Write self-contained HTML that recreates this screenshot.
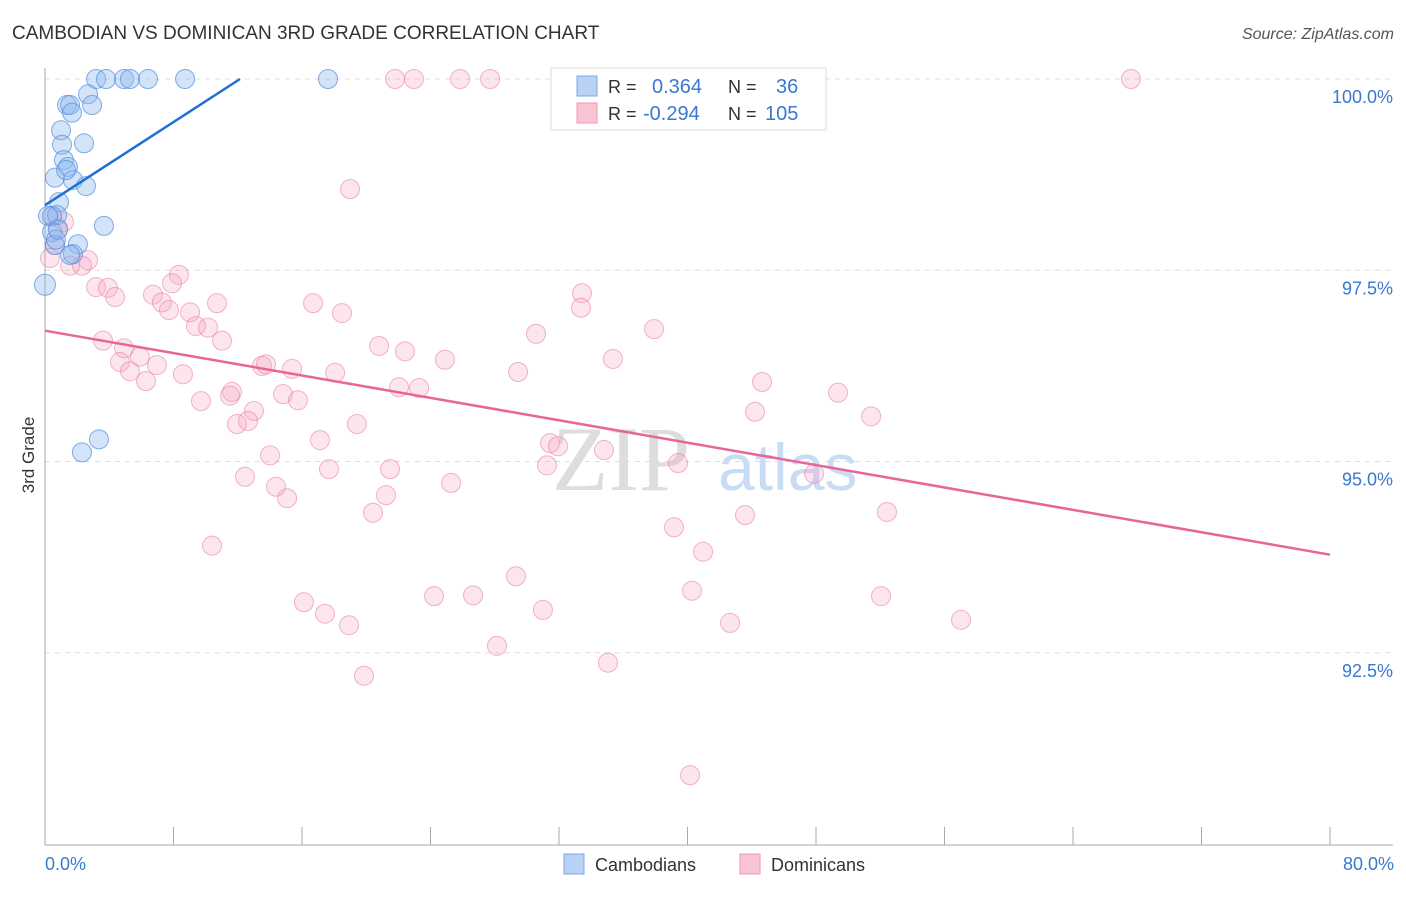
<!DOCTYPE html>
<html><head><meta charset="utf-8"><style>
body{margin:0;background:#fff;font-family:"Liberation Sans",sans-serif}
</style></head><body>
<svg id="chart" width="1406" height="892" xmlns="http://www.w3.org/2000/svg" font-family="Liberation Sans, sans-serif">
<text x="12" y="39" font-size="19" fill="#333">CAMBODIAN VS DOMINICAN 3RD GRADE CORRELATION CHART</text>
<text x="1394" y="39" font-size="16" fill="#555" font-style="italic" text-anchor="end">Source: ZipAtlas.com</text>
<g>
<text x="552" y="490" font-size="92" fill="#ddd" font-family="Liberation Serif, serif">ZIP</text>
<text x="718" y="490" font-size="66" fill="#c9dcf3">atlas</text>
</g>
<g id="grid"></g>
<g id="axes"></g>
<g id="pts"></g>
<g id="trend"></g>
<text transform="translate(34,455) rotate(-90)" font-size="17" fill="#333" text-anchor="middle">3rd Grade</text>
<text x="45" y="870" font-size="18" fill="#3a78d0">0.0%</text>
<text x="1394" y="870" font-size="18" fill="#3a78d0" text-anchor="end">80.0%</text>
<g>
<rect x="551" y="68" width="275" height="62" fill="#fff" stroke="#ddd"/>
<rect x="577" y="76" width="20" height="20" fill="#b8d2f5" stroke="#7aa8e6"/>
<rect x="577" y="103" width="20" height="20" fill="#f9c4d4" stroke="#ee9ab6"/>
<text x="608" y="93" font-size="18" fill="#333">R =</text>
<text x="652" y="93" font-size="20" fill="#3a78d0">0.364</text>
<text x="728" y="93" font-size="18" fill="#333">N =</text>
<text x="776" y="93" font-size="20" fill="#3a78d0">36</text>
<text x="608" y="120" font-size="18" fill="#333">R =</text>
<text x="643" y="120" font-size="20" fill="#3a78d0">-0.294</text>
<text x="728" y="120" font-size="18" fill="#333">N =</text>
<text x="765" y="120" font-size="20" fill="#3a78d0">105</text>
</g>
<g>
<rect x="564" y="854" width="20" height="20" fill="#b8d2f5" stroke="#7aa8e6"/>
<text x="595" y="871" font-size="18" fill="#333">Cambodians</text>
<rect x="740" y="854" width="20" height="20" fill="#f9c4d4" stroke="#ee9ab6"/>
<text x="771" y="871" font-size="18" fill="#333">Dominicans</text>
</g>
</svg>
<script>
const yTicks=[100,97.5,95,92.5];
const yTickLabels=["100.0%","97.5%","95.0%","92.5%"];
const xTicks=[0,8,16,24,32,40,48,56,64,72,80];
const blueX=[3.18,3.80,4.92,5.29,6.41,8.72,17.62,2.68,1.37,1.56,1.68,2.93,2.43,1.00,1.06,1.18,1.43,0.62,1.74,2.55,0.87,3.67,0.44,0.75,0.44,0.62,2.05,1.74,0,3.36,2.30,0.68,0.19,1.56,0.81,1.31];
const blueY=[100,100,100,100,100,100,100,99.80,99.66,99.66,99.56,99.66,99.16,99.33,99.14,98.94,98.85,98.71,98.68,98.60,98.39,98.08,98.21,98.22,98.00,97.83,97.84,97.71,97.31,95.29,95.12,97.90,98.21,97.70,98.03,98.81];
const pinkX=[32.44,21.79,22.97,25.84,27.71,45.33,67.61,18.99,1.18,0.44,0.81,0.62,0.31,2.68,1.56,2.30,8.34,7.91,3.18,3.92,4.36,6.72,7.28,7.72,10.71,9.03,9.40,10.15,11.02,16.69,18.49,3.61,4.92,5.91,4.67,5.29,6.29,6.97,8.59,9.71,11.64,11.52,13.01,11.95,12.64,13.51,13.76,15.38,14.82,15.75,18.06,20.80,22.41,24.90,22.04,23.29,33.43,33.37,30.57,37.92,35.36,29.45,44.64,44.20,49.37,51.43,19.42,17.12,14.01,17.68,21.48,12.45,14.38,15.07,21.23,25.28,20.42,31.44,31.94,34.80,31.25,39.41,47.88,10.40,39.16,43.58,52.42,40.97,29.32,16.12,17.43,24.22,26.65,31.00,40.28,42.65,52.05,57.03,18.93,28.14,35.05,19.86,40.16];
const pinkY=[100,100,100,100,100,100,100,98.56,98.13,98.20,98.05,97.83,97.66,97.63,97.56,97.56,97.44,97.33,97.28,97.27,97.15,97.18,97.08,96.98,97.07,96.95,96.77,96.75,96.58,97.07,96.94,96.58,96.48,96.37,96.30,96.18,96.05,96.26,96.14,95.79,95.91,95.86,95.66,95.49,95.53,96.25,96.27,96.21,95.88,95.80,96.16,96.51,96.44,96.33,95.97,95.96,97.20,97.01,96.67,96.73,96.34,96.17,96.04,95.65,95.90,95.59,95.49,95.28,95.08,94.90,94.90,94.80,94.67,94.52,94.56,94.72,94.33,95.24,95.20,95.15,94.95,94.98,94.84,93.90,94.14,94.30,94.34,93.82,93.50,93.16,93.01,93.24,93.25,93.06,93.31,92.89,93.24,92.93,92.86,92.59,92.37,92.20,90.90];
const blueTrend=[98.35,0.1359];
const pinkTrend=[96.71,-0.0366];
const NS="http://www.w3.org/2000/svg";
function xs(v){return 45+v*1285/80;}
function ys(v){return 79+(100-v)*76.5;}
function mk(t,a,p){const e=document.createElementNS(NS,t);for(const k in a)e.setAttribute(k,a[k]);document.getElementById(p).appendChild(e);return e;}
yTicks.forEach((t,i)=>{
  const l=mk('line',{x1:45,x2:1393,y1:ys(t),y2:ys(t),stroke:'#ddd','stroke-dasharray':'5,5'},'grid');
  
  
  const tx=mk('text',{x:1393,y:ys(t)+24,'font-size':18,fill:'#3a78d0','text-anchor':'end'},'grid');
  tx.textContent=yTickLabels[i];
  
  
});
const ya=mk('line',{x1:45,x2:45,y1:68,y2:845,stroke:'#aaa'},'axes');


const xa=mk('line',{x1:45,x2:1393,y1:845,y2:845,stroke:'#aaa'},'axes');


xTicks.forEach(t=>{
  const l=mk('line',{x1:xs(t),x2:xs(t),y1:827,y2:845,stroke:'#aaa'},'axes');
  
  
});
pinkX.forEach((x,i)=>{
  const c=mk('circle',{cx:xs(x),cy:ys(pinkY[i]),r:9.5,fill:'rgba(244,160,190,0.28)',stroke:'rgba(232,120,160,0.55)','stroke-width':1},'pts');
  
  
});
blueX.forEach((x,i)=>{
  const c=mk('circle',{cx:xs(x),cy:ys(blueY[i]),r:i==28?10.5:9.5,fill:'rgba(140,185,240,0.38)',stroke:'rgba(80,140,220,0.7)','stroke-width':1},'pts');
  
  
});
const bx2=(100-blueTrend[0])/blueTrend[1];
const bl=mk('line',{x1:xs(0),y1:ys(blueTrend[0]),x2:xs(bx2),y2:ys(100),stroke:'#1f6fd6','stroke-width':2.5},'trend');


const pl=mk('line',{x1:xs(0),y1:ys(pinkTrend[0]),x2:xs(80),y2:ys(pinkTrend[0]+80*pinkTrend[1]),stroke:'#e8649a','stroke-width':2.5},'trend');


</script>
</body></html>
